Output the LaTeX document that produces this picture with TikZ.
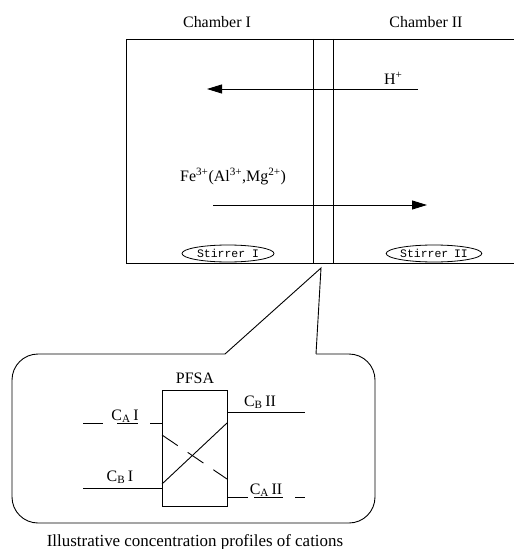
\documentclass[tikz,border=0pt]{standalone}
\usepackage{fontspec}
\setmainfont{Liberation Serif}
\newfontfamily\stirfont{Liberation Mono}
\usepackage{tikz}
\usetikzlibrary{positioning,shapes.geometric,arrows.meta}
\tikzset{wall/.style={draw,line width=0.9bp},
	 flux/.style={line width=0.9bp,-{Triangle[length=15bp,width=9bp]}},
	 stirrer/.style={ellipse,draw,line width=0.8bp,inner sep=0pt,minimum width=92bp,minimum height=17bp,font=\stirfont\fontsize{11.5}{13}\selectfont},
	 membox/.style={rectangle,draw,line width=0.8bp,inner sep=0pt,minimum width=65bp,minimum height=116bp},
	 lbl/.style={anchor=base,inner sep=0pt,font=\fontsize{16}{19}\selectfont},
	 prof/.style={line width=0.9bp},
	 node distance = 1
	 }

\begin{document}
\begin{tikzpicture}[x=1bp,y=-1bp] % two chambers and the membrane
	\useasboundingbox (0,0) rectangle (514,549);
	% tank and membrane
	\draw[wall] (514,39) -- (126,39) -- (126,263) -- (514,263);
	\coordinate (m1t) at (313,39);
	\coordinate (m1b) at (313,263);
	\coordinate (m2t) at (333,39);
	\coordinate (m2b) at (333,263);
	\draw[wall] (m1t) -- (m1b);
	\draw[wall] (m2t) -- (m2b);
	\node[lbl] (ch1) at (217,28) {Chamber I};
	\node[lbl] (ch2) at (426,28) {Chamber II};
	% fluxes
	\coordinate (hin) at (418,89);
	\coordinate (hout) at (207,89);
	\draw[flux] (hin) -- (hout);
	\node[lbl,anchor=base west] (hion) at (384,85) {H\textsuperscript{+}};
	\node[lbl,anchor=base west] (feion) at (180,182) {Fe\textsuperscript{3+}(Al\textsuperscript{3+},Mg\textsuperscript{2+})};
	\coordinate (fein) at (213,205);
	\coordinate (feout) at (427,205);
	\draw[flux] (fein) -- (feout);
	\node[stirrer] (st1) at (228,253.5) {Stirrer I};
	\node[stirrer] (st2) at (434,253.5) {Stirrer\enspace II};
	% callout
	\coordinate (tip) at (321,268);
	\coordinate (cl) at (225,354);
	\coordinate (cr) at (316,354);
	\draw[prof] (cl) -- (tip) -- (cr);
	\draw[prof,rounded corners=26bp] (cr) -- (375,354) -- (375,523) -- (12,523) -- (12,354) -- (cl);
	% profiles
	\node[membox] (pfsa) at (194.5,448) {};
	\node[lbl] (pfsalbl) at (195,383) {PFSA};
	\coordinate (cAIl) at (83,423);
	\coordinate (cAIr) at (162,423);
	\draw[prof,dash pattern=on 20bp off 14bp on 21bp off 12bp on 12bp] (cAIl) -- (cAIr);
	\node[lbl] (cAIlbl) at (125,420) {C\textsubscript{A}\,I};
	\coordinate (cBIl) at (83,488);
	\coordinate (cBIr) at (162,488);
	\draw[prof] (cBIl) -- (cBIr);
	\node[lbl] (cBIlbl) at (120,481) {C\textsubscript{B}\,I};
	\coordinate (cBIIl) at (227,412);
	\coordinate (cBIIr) at (305,412);
	\draw[prof] (cBIIl) -- (cBIIr);
	\node[lbl] (cBIIlbl) at (260,406) {C\textsubscript{B}\,II};
	\coordinate (cAIIl) at (227,497);
	\coordinate (cAIIr) at (305,497);
	\draw[prof,dash pattern=on 21bp off 6bp on 29bp off 12bp on 11bp] (cAIIl) -- (cAIIr);
	\node[lbl] (cAIIlbl) at (266,494) {C\textsubscript{A}\,II};
	\coordinate (dBl) at (162,484);
	\coordinate (dBr) at (227,423);
	\draw[prof] (dBl) -- (dBr);
	\coordinate (dAl) at (162,435);
	\coordinate (dAr) at (227,479);
	\draw[prof,dash pattern=on 19bp off 12bp] (dAl) -- (dAr);
	\node[lbl,font=\fontsize{17}{20}\selectfont] (caption) at (195,546) {Illustrative concentration profiles of cations};
\end{tikzpicture}
\end{document}
